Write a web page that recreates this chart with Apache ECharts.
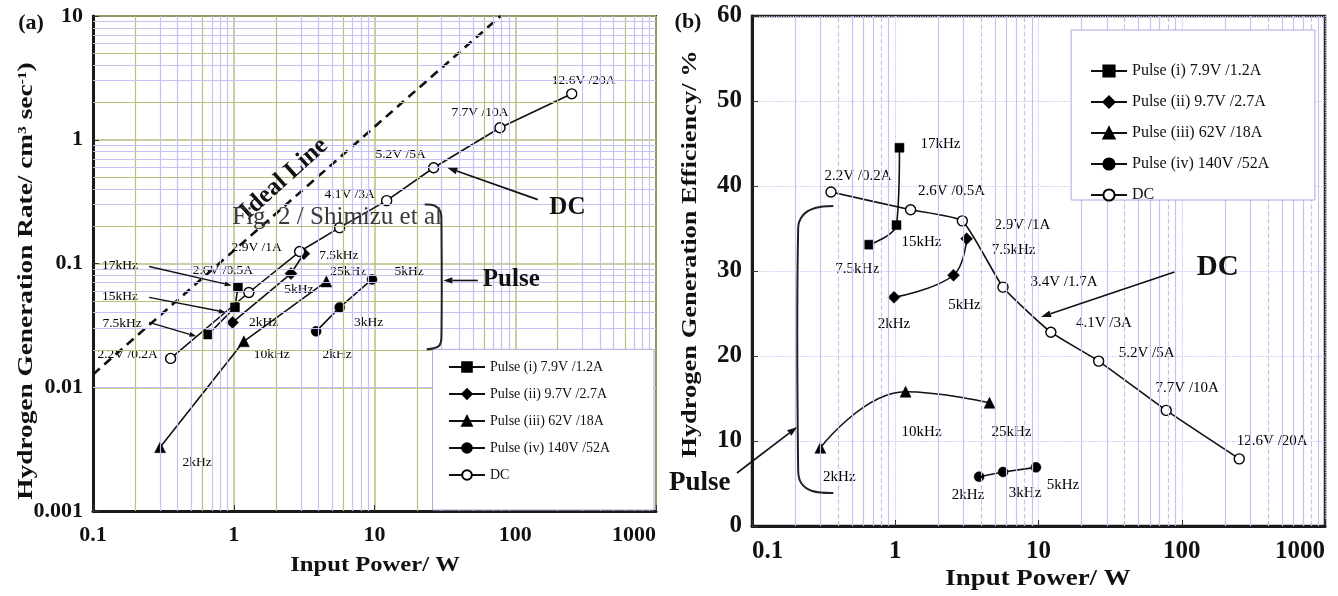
<!DOCTYPE html>
<html><head><meta charset="utf-8">
<script src="https://cdn.jsdelivr.net/npm/echarts@6/dist/echarts.min.js"></script>
<style>html,body{margin:0;padding:0;background:#fff}#c{width:1338px;height:596px}</style>
</head><body><div id="c"></div>
<script>
// ---------- DATA ----------
const xTickLabels = ['0.1', '1', '10', '100', '1000'];
const rateTickLabels = ['0.001', '0.01', '0.1', '1', '10'];
const effTickLabels = ['0', '10', '20', '30', '40', '50', '60'];

const seriesNames = ['Pulse (i) 7.9V /1.2A', 'Pulse (ii) 9.7V /2.7A', 'Pulse (iii) 62V /18A', 'Pulse (iv) 140V /52A', 'DC'];

const dcPower = [0.356, 1.28, 2.94, 5.65, 12.2, 26.3, 77.9, 252];
const dcRate  = [0.0171, 0.0583, 0.125, 0.195, 0.322, 0.594, 1.25, 2.35];
const dcEff   = [39.3, 37.2, 35.9, 28.1, 22.8, 19.4, 13.6, 7.9];
const dcLabels = ['2.2V /0.2A', '2.6V /0.5A', '2.9V /1A', '3.4V /1.7A', '4.1V /3A', '5.2V /5A', '7.7V /10A', '12.6V /20A'];

const p1Power = [0.658, 1.02, 1.07];
const p1Rate  = [0.0267, 0.0442, 0.064];
const p1Eff   = [33.1, 35.4, 44.5];
const p1Labels = ['7.5kHz', '15kHz', '17kHz'];

const p2Power = [0.98, 2.55, 3.15];
const p2Rate  = [0.0334, 0.083, 0.12];
const p2Eff   = [26.9, 29.5, 33.8];
const p2Labels = ['2kHz', '5kHz', '7.5kHz'];

const p3Power = [0.30, 1.18, 4.55];
const p3Rate  = [0.00328, 0.0235, 0.0716];
const p3Eff   = [9.2, 15.8, 14.5];
const p3Labels = ['2kHz', '10kHz', '25kHz'];

const p4Power = [3.85, 5.66, 9.6];
const p4Rate  = [0.0283, 0.0442, 0.0743];
const p4Eff   = [5.8, 6.35, 6.9];
const p4Labels = ['2kHz', '3kHz', '5kHz'];

const idealPower = [0.1, 78.7];
const idealRate  = [0.0127, 10];

// ---------- LABEL PLACEMENT (pixel offsets from each point) ----------
const offA = {
  dc: [[-43,-4],[-26,-22],[-43,-4],null,[-37,-6],[-33,-13],[-20,-15],[12,-13]],
  p1: [[-86,-11],[-115,-11],[-118,-22]],
  p2: [[31,0],[8,16],[35,2]],
  p3: [[37,15],[28,13],[22,-10]],
  p4: [[21,23],[29,15],[37,-8]]
};
const offB = {
  dc: [[27,-16],[41,-19],[60,4],[61,-5],[53,-9],[48,-8],[21,-22],[33,-18]],
  p1: [[-12,24],[25,17],[41,-4]],
  p2: [[0,27],[11,30],[47,11]],
  p3: [[19,29],[16,40],[22,29]],
  p4: [[-11,18],[22,21],[27,18]]
};

const SERIF = '"Liberation Serif", "DejaVu Serif", serif';

function tickFmt(labels) {
  return function (v) {
    for (const l of labels) {
      if (Math.abs(Math.log10(+l) - Math.log10(v)) < 1e-6) return l;
    }
    return '';
  };
}
function linFmt(labels) {
  return function (v) { const s = String(Math.round(v)); return labels.includes(s) ? s : ''; };
}

const symDefs = [
  {symbol: 'rect', size: 9, fill: '#000'},
  {symbol: 'diamond', size: 12, fill: '#000'},
  {symbol: 'triangle', size: 11, fill: '#000'},
  {symbol: 'circle', size: 10, fill: '#000'},
  {symbol: 'circle', size: 10, fill: '#fff'}
];

function mk(idx, grid, xs, ys, labels, offs, fontSize, smooth) {
  const sd = symDefs[idx];
  return {
    type: 'line', name: seriesNames[idx], xAxisIndex: grid, yAxisIndex: grid,
    symbol: sd.symbol, symbolSize: sd.size, smooth: smooth || false,
    z: idx === 4 ? 4 : 3,
    lineStyle: {color: '#111', width: 1.6},
    itemStyle: {color: sd.fill, borderColor: '#000', borderWidth: idx === 4 ? 1.4 : 0.5},
    label: {show: false},
    data: xs.map((x, i) => {
      const item = {value: [x, ys[i]]};
      if (offs[i]) {
        item.label = {show: true, position: 'inside', formatter: labels[i], offset: offs[i],
          fontFamily: SERIF, fontSize: fontSize, color: '#000', align: 'center', verticalAlign: 'middle'};
      }
      return item;
    })
  };
}

// minor grid values
function logMinors(decades) {
  const out = [];
  decades.forEach(d => { for (let k = 2; k <= 9; k++) out.push({v: d * k, k: k}); });
  return out;
}
const minorXA = logMinors([0.1, 1, 10, 100]);
const minorYA = logMinors([0.001, 0.01, 0.1, 1]);
const minorXB = logMinors([0.1, 1, 10, 100]);

const BLUE = '#c3c3f3';
const OLIVE = '#bdbd80';

const gridSeriesA = {
  type: 'line', xAxisIndex: 0, yAxisIndex: 0, data: [], z: 1, silent: true,
  markLine: {
    silent: true, symbol: ['none', 'none'], label: {show: false}, animation: false,
    data: minorXA.map(m => ({xAxis: m.v, lineStyle: {color: (m.k === 2 || m.k === 6) ? OLIVE : BLUE, width: 1.2, type: 'solid'}}))
      .concat(minorYA.map(m => ({yAxis: m.v, lineStyle: {color: (m.k === 2 || m.k === 5) ? OLIVE : BLUE, width: 1.2, type: 'solid'}})))
  }
};
const gridSeriesB = {
  type: 'line', xAxisIndex: 1, yAxisIndex: 1, data: [], z: 1, silent: true,
  markLine: {
    silent: true, symbol: ['none', 'none'], label: {show: false}, animation: false,
    data: minorXB.map(m => ({xAxis: m.v, lineStyle: {color: BLUE, width: 1.2, type: (m.k === 4 || m.k === 8) ? 'dashed' : 'solid'}}))
  }
};

const axisLineStyle = {color: '#1a1a1a', width: 3};

const option = {
  animation: false,
  backgroundColor: '#fff',
  grid: [
    {left: 93, top: 16, width: 563, height: 495, show: true, borderColor: '#222', borderWidth: 2},
    {left: 752, top: 16, width: 573, height: 510, show: true, borderColor: '#222', borderWidth: 2.5}
  ],
  xAxis: [
    {type: 'log', logBase: 10, min: 0.1, max: 1000, gridIndex: 0,
     axisLine: {show: true, lineStyle: axisLineStyle},
     axisTick: {show: true, inside: true, length: 6, lineStyle: {color: '#333'}},
     axisLabel: {fontFamily: SERIF, fontWeight: 'bold', fontSize: 22, color: '#111', margin: 13,
                 formatter: tickFmt(xTickLabels), alignMaxLabel: 'right'},
     splitLine: {show: true, lineStyle: {color: OLIVE, width: 1.5}}},
    {type: 'log', logBase: 10, min: 0.1, max: 1000, gridIndex: 1,
     axisLine: {show: true, lineStyle: axisLineStyle},
     axisTick: {show: true, inside: true, length: 6, lineStyle: {color: '#333'}},
     axisLabel: {fontFamily: SERIF, fontWeight: 'bold', fontSize: 25, color: '#111', margin: 13,
                 formatter: tickFmt(xTickLabels), alignMaxLabel: 'right', alignMinLabel: 'left'},
     splitLine: {show: true, lineStyle: {color: BLUE, width: 1.2, type: 'dotted'}}}
  ],
  yAxis: [
    {type: 'log', logBase: 10, min: 0.001, max: 10, gridIndex: 0,
     axisLine: {show: true, lineStyle: axisLineStyle},
     axisTick: {show: true, inside: true, length: 6, lineStyle: {color: '#333'}},
     axisLabel: {fontFamily: SERIF, fontWeight: 'bold', fontSize: 22, color: '#111', margin: 10,
                 formatter: tickFmt(rateTickLabels)},
     splitLine: {show: true, lineStyle: {color: OLIVE, width: 1.5}}},
    {type: 'value', min: 0, max: 60, interval: 10, gridIndex: 1,
     axisLine: {show: true, lineStyle: axisLineStyle},
     axisTick: {show: true, inside: true, length: 6, lineStyle: {color: '#333'}},
     axisLabel: {fontFamily: SERIF, fontWeight: 'bold', fontSize: 25, color: '#111', margin: 10,
                 formatter: linFmt(effTickLabels)},
     splitLine: {show: true, lineStyle: {color: BLUE, width: 1.2, type: 'dotted'}}}
  ],
  legend: [
    {orient: 'vertical', left: 438, top: 350, padding: [10, 10, 10, 10], itemGap: 13,
     itemWidth: 36, itemHeight: 12,
     textStyle: {fontFamily: SERIF, fontSize: 14, color: '#111'}, data: seriesNames, selectedMode: false, z: 8},
    {orient: 'vertical', left: 1070, top: 30, padding: [33, 10, 7, 20], itemGap: 15,
     itemWidth: 36, itemHeight: 14,
     textStyle: {fontFamily: SERIF, fontSize: 16, color: '#111'}, data: seriesNames, selectedMode: false, z: 8}
  ],
  series: [
    gridSeriesA, gridSeriesB,
    {type: 'line', name: 'Ideal Line', xAxisIndex: 0, yAxisIndex: 0, symbol: 'none', z: 2,
     lineStyle: {color: '#111', width: 2.6, type: [9, 6]},
     data: idealPower.map((x, i) => [x, idealRate[i]])},
    mk(0, 0, p1Power, p1Rate, p1Labels, offA.p1, 13.5),
    mk(1, 0, p2Power, p2Rate, p2Labels, offA.p2, 13.5),
    mk(2, 0, p3Power, p3Rate, p3Labels, offA.p3, 13.5),
    mk(3, 0, p4Power, p4Rate, p4Labels, offA.p4, 13.5),
    mk(4, 0, dcPower, dcRate, dcLabels, offA.dc, 13.5),
    mk(0, 1, p1Power, p1Eff, p1Labels, offB.p1, 15, 0.35),
    mk(1, 1, p2Power, p2Eff, p2Labels, offB.p2, 15, 0.4),
    mk(2, 1, p3Power, p3Eff, p3Labels, offB.p3, 15, 0.45),
    mk(3, 1, p4Power, p4Eff, p4Labels, offB.p4, 15),
    mk(4, 1, dcPower, dcEff, dcLabels, offB.dc, 15, 0.15)
  ]
};

const chart = echarts.init(document.getElementById('c'), null, {renderer: 'canvas'});
chart.setOption(option);

// ---------- ANNOTATIONS (anchored through the axes) ----------
function P(panel, px, py) {
  const d = panel === 0
    ? [Math.pow(10, (px - 93) / 143 - 1), Math.pow(10, 1 - (py - 16) / 124)]
    : [Math.pow(10, (px - 752) / 142.75 - 1), (526 - py) / 8.5];
  return chart.convertToPixel({gridIndex: panel}, d);
}
const G = [];
function arrow(a, b, w, head) {
  const dx = b[0] - a[0], dy = b[1] - a[1], L = Math.hypot(dx, dy);
  const ux = dx / L, uy = dy / L;
  const bx = b[0] - ux * head, by = b[1] - uy * head;
  G.push({type: 'line', z: 20, shape: {x1: a[0], y1: a[1], x2: bx, y2: by}, style: {stroke: '#111', lineWidth: w}});
  G.push({type: 'polygon', z: 20, shape: {points: [b, [bx - uy * head * 0.35, by + ux * head * 0.35], [bx + uy * head * 0.35, by - ux * head * 0.35]]},
          style: {fill: '#111'}});
}
function txt(p, text, font, extra, fill) {
  G.push(Object.assign({type: 'text', z: 21, x: p[0], y: p[1],
    style: {text: text, font: font, fill: fill || '#111', align: 'center', verticalAlign: 'middle'}}, extra || {}));
}
function bracket(pts, w) {
  G.push({type: 'polyline', z: 20, shape: {points: pts, smooth: 0.35}, style: {stroke: '#222', lineWidth: w, fill: null}});
}
function box(a, b, color) {
  G.push({type: 'rect', z: 6, shape: {x: a[0], y: a[1], width: b[0] - a[0], height: b[1] - a[1]},
          style: {fill: '#fff', stroke: color, lineWidth: 1}});
}

// legend frames
box(P(0,438,350), [chart.convertToPixel({gridIndex: 0}, [1000, 0.001])[0] - 2, chart.convertToPixel({gridIndex: 0}, [1000, 0.001])[1] - 1], '#a9a9d6');
box(P(1,1070,30), P(1,1313,200), '#a9a9e6');

// panel (a)
arrow(P(0,150,267), P(0,234,286), 1.4, 7);
arrow(P(0,150,298), P(0,228,313), 1.4, 7);
arrow(P(0,150,323), P(0,198,337), 1.4, 7);
arrow(P(0,545,200), P(0,453,168), 1.6, 10);
arrow(P(0,484,281), P(0,449,281), 1.6, 9);
bracket([[430,205],[440,206],[446,212],[447,222],[447,338],[445,346],[439,349],[432,350]].map(q => P(0, q[0], q[1])), 2);
txt(P(0,287,179), 'Ideal Line', 'bold 25px ' + SERIF, {rotation: 42 * Math.PI / 180});
txt(P(0,341,218), 'Fig. 2 / Shimizu et al', '25px ' + SERIF, null, '#3a3a3a');
txt(P(0,575,208), 'DC', 'bold 25px ' + SERIF);
txt(P(0,518,280), 'Pulse', 'bold 25px ' + SERIF);

// panel (b)
arrow(P(1,1173,272), P(1,1040,317), 1.6, 10);
arrow(P(1,737,473), P(1,797,427), 1.6, 10);
bracket([[833,206],[815,208],[803,215],[798,228],[798,470],[801,483],[812,491],[833,493]].map(q => P(1, q[0], q[1])), 2);
txt(P(1,1216,268), 'DC', 'bold 29px ' + SERIF);
txt(P(1,700,483), 'Pulse', 'bold 27px ' + SERIF);

// panel tags and axis titles
txt([31, 23], '(a)', 'bold 22px ' + SERIF);
txt([688, 22], '(b)', 'bold 22px ' + SERIF);
txt([375, 566], 'Input Power/ W', 'bold 20px ' + SERIF, {scaleX: 1.23});
txt([1038, 579], 'Input Power/ W', 'bold 23px ' + SERIF, {scaleX: 1.17});
G.push({type: 'text', z: 21, x: 27, y: 281, rotation: Math.PI / 2, scaleX: 1.3,
  style: {text: 'Hydrogen Generation Rate/ cm{s|3} sec{s|-1})', font: 'bold 21px ' + SERIF, fill: '#111',
          align: 'center', verticalAlign: 'middle',
          rich: {s: {fontSize: 12, fontWeight: 'bold', fontFamily: SERIF, verticalAlign: 'top', fill: '#111'}}}});
G.push({type: 'text', z: 21, x: 691, y: 254, rotation: Math.PI / 2, scaleX: 1.26,
  style: {text: 'Hydrogen Generation Efficiency/ %', font: 'bold 21px ' + SERIF, fill: '#111',
          align: 'center', verticalAlign: 'middle'}});

chart.setOption({graphic: G});
</script>
</body></html>
